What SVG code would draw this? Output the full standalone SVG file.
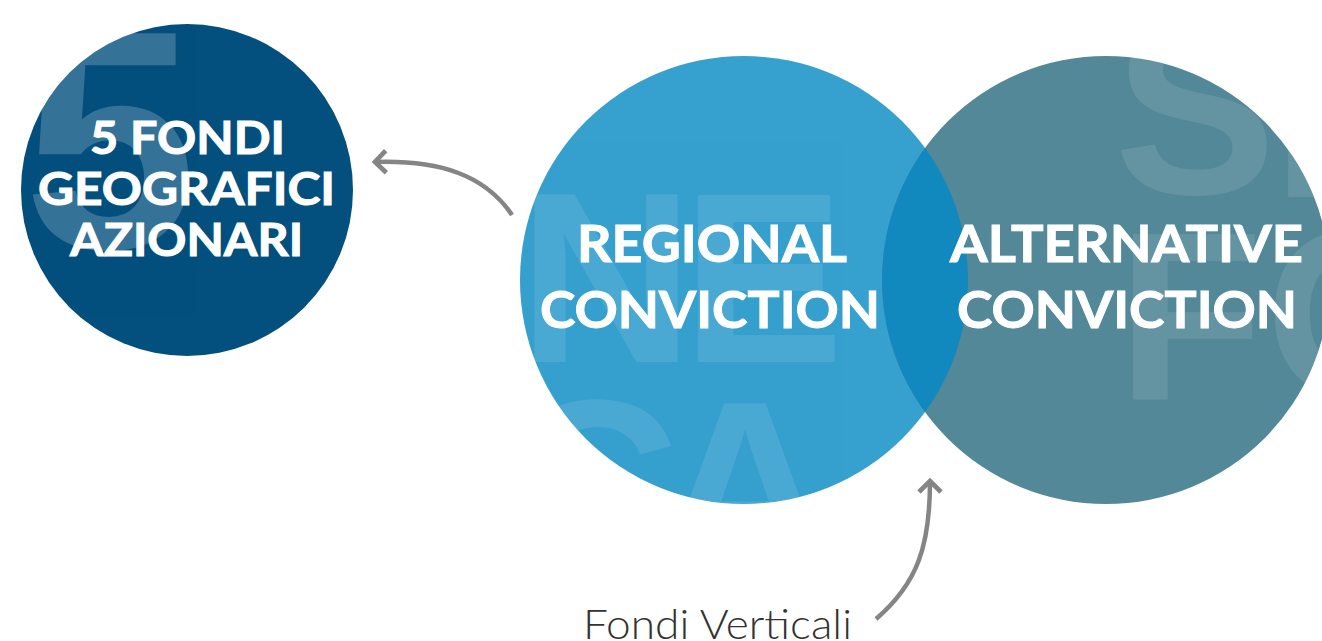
<svg xmlns="http://www.w3.org/2000/svg" width="1322" height="641" viewBox="0 0 1322 641">
  <style>
    .lbl { font-family: Lato, "Liberation Sans", Arial, sans-serif; font-weight: 700; fill: #ffffff; stroke: #ffffff; stroke-width: 1; text-anchor: middle; }
    .bg { font-family: "Liberation Sans", Arial, sans-serif; font-weight: 700; fill: #ffffff; }
    .conn { fill: none; stroke: #858585; stroke-width: 4.5; }
    .note { font-family: Lato, "Liberation Sans", Arial, sans-serif; font-weight: 300; fill: #333333; }
  </style>
  <defs>
    <clipPath id="cDark"><circle cx="187" cy="190" r="166"/></clipPath>
    <clipPath id="cLight"><circle cx="744" cy="280" r="224"/></clipPath>
    <clipPath id="cTeal"><circle cx="1106" cy="280" r="224"/></clipPath>
    <marker id="chev" viewBox="0 0 20 20" refX="10" refY="10" markerWidth="7" markerHeight="7" markerUnits="strokeWidth" orient="auto">
      <polyline points="3,3 10,10 3,17" fill="none" stroke="#858585" stroke-width="3"/>
    </marker>
  </defs>
  <rect width="1322" height="641" fill="#ffffff"/>

  <g id="node-geografici">
    <circle cx="187" cy="190" r="166" fill="#034F7D"/>
    <g clip-path="url(#cDark)" opacity="0.2">
      <text class="bg" x="110" y="248" font-size="312" text-anchor="middle">5</text>
    </g>
    <text class="lbl" font-size="45" x="187.5" y="154" textLength="195" lengthAdjust="spacingAndGlyphs">5 FONDI</text>
    <text class="lbl" font-size="45" x="186.5" y="205" textLength="297" lengthAdjust="spacingAndGlyphs">GEOGRAFICI</text>
    <text class="lbl" font-size="45" x="186.5" y="256" textLength="233" lengthAdjust="spacingAndGlyphs">AZIONARI</text>
  </g>

  <g id="node-regional">
    <circle cx="744" cy="280" r="224" fill="#36A0CF"/>
    <g clip-path="url(#cLight)" opacity="0.1">
      <text class="bg" x="606" y="362" font-size="243" text-anchor="middle">N</text>
      <text class="bg" x="682" y="362" font-size="243">E</text>
      <text class="bg" x="592" y="570" font-size="243" text-anchor="middle">C</text>
      <text class="bg" x="745" y="571" font-size="243" text-anchor="middle">A</text>
    </g>
  </g>

  <g id="node-alternative">
    <circle cx="1106" cy="280" r="224" fill="#538898"/>
    <g clip-path="url(#cTeal)" opacity="0.1">
      <text class="bg" x="1195" y="194" font-size="243" text-anchor="middle">S</text>
      <text class="bg" x="1272" y="197" font-size="243">E</text>
      <text class="bg" x="1117" y="400" font-size="240">F</text>
      <text class="bg" x="1265" y="397" font-size="240">O</text>
    </g>
  </g>

  <g id="overlap">
    <circle cx="1106" cy="280" r="224" fill="#1188BE" clip-path="url(#cLight)"/>
  </g>

  <g id="labels">
    <text class="lbl" font-size="52" x="712" y="262" textLength="270" lengthAdjust="spacingAndGlyphs">REGIONAL</text>
    <text class="lbl" font-size="52" x="710" y="328" textLength="340" lengthAdjust="spacingAndGlyphs">CONVICTION</text>
    <text class="lbl" font-size="52" x="1126.5" y="262" textLength="353" lengthAdjust="spacingAndGlyphs">ALTERNATIVE</text>
    <text class="lbl" font-size="52" x="1127" y="328" textLength="340" lengthAdjust="spacingAndGlyphs">CONVICTION</text>
  </g>

  <g id="node-verticali">
    <text class="note" x="583" y="639" font-size="42" textLength="269" lengthAdjust="spacingAndGlyphs">Fondi Verticali</text>
  </g>

  <g id="connectors">
    <path class="conn" d="M512,215 C485,175 440,160 375,162" marker-end="url(#chev)"/>
    <path class="conn" d="M876,619 C918,583 930,545 930,481" marker-end="url(#chev)"/>
  </g>
</svg>
